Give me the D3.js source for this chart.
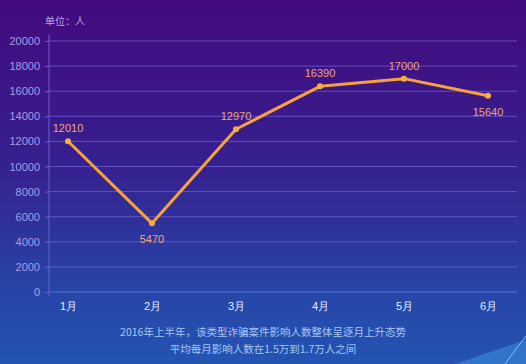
<!DOCTYPE html>
<html>
<head>
<meta charset="utf-8">
<script src="https://cdn.jsdelivr.net/npm/d3@7"></script>
<style>
  html, body { margin: 0; padding: 0; background: #2a2f9a; }
  svg { display: block; font-family: "Noto Sans CJK SC", "Noto Sans", sans-serif; }
</style>
</head>
<body>
<div id="chart"></div>
<script>
const months = ["1月", "2月", "3月", "4月", "5月", "6月"]
const people = [12010, 5470, 12970, 16390, 17000, 15640]
const yTicks = [0, 2000, 4000, 6000, 8000, 10000, 12000, 14000, 16000, 18000, 20000]
const unitLabel = "单位：人"
const notes = ["2016年上半年，该类型诈骗案件影响人数整体呈逐月上升态势", "平均每月影响人数在1.5万到1.7万人之间"]

const width = 526, height = 364

const svg = d3.select("#chart")
              .append("svg")
              .attr("width", width)
              .attr("height", height)

// background gradient purple -> blue
const grad = svg.append("defs").append("linearGradient")
                .attr("id", "bg")
                .attr("x1", 0).attr("y1", 0).attr("x2", 0).attr("y2", 1)
grad.append("stop").attr("offset", "0%").attr("stop-color", "#430a7e")
grad.append("stop").attr("offset", "45%").attr("stop-color", "#36208f")
grad.append("stop").attr("offset", "80%").attr("stop-color", "#2745a8")
grad.append("stop").attr("offset", "100%").attr("stop-color", "#2454b2")

svg.append("rect")
   .attr("width", width)
   .attr("height", height)
   .attr("fill", "url(#bg)")

const x = d3.scalePoint()
            .domain(months)
            .range([68, 488])

const y = d3.scaleLinear()
            .domain([0, 20000])
            .range([292, 41])

// grid lines
svg.append("g")
   .selectAll("line")
   .data(yTicks)
   .enter()
   .append("line")
   .attr("x1", 49)
   .attr("x2", 517)
   .attr("y1", d => y(d))
   .attr("y2", d => y(d))
   .attr("stroke", d => d === 0 ? "#5d7ee0" : "#6a5fd0")
   .attr("stroke-opacity", 0.8)
   .attr("stroke-width", 1)

// y axis
const yAxis = d3.axisLeft(y).tickValues(yTicks).tickSize(4).tickFormat(d3.format("d"))
const gy = svg.append("g")
              .attr("transform", "translate(49,0)")
              .call(yAxis)
gy.select(".domain").remove()
gy.selectAll(".tick line").attr("stroke", "#6a5fd0")
gy.selectAll("text")
  .attr("fill", "#a99de6")
  .attr("font-size", 11)
  .attr("font-family", "Liberation Sans, sans-serif")
  .attr("dx", -2)

svg.append("line")
   .attr("x1", 49).attr("x2", 49)
   .attr("y1", 34).attr("y2", 296)
   .attr("stroke", "#6a5fd0")

// x axis
const xAxis = d3.axisBottom(x).tickSize(0)
const gx = svg.append("g")
              .attr("transform", "translate(0,292)")
              .call(xAxis)
gx.select(".domain").remove()
gx.selectAll("text")
  .attr("fill", "#e8ecff")
  .attr("font-size", 11)
  .attr("dy", 15)

svg.append("text")
   .attr("x", 45)
   .attr("y", 25)
   .attr("fill", "#b4a8ea")
   .attr("font-size", 10)
   .text(unitLabel)

// line
const line = d3.line()
               .x((d, i) => x(months[i]))
               .y(d => y(d))

svg.append("path")
   .datum(people)
   .attr("d", line)
   .attr("fill", "none")
   .attr("stroke", "#f7a23c")
   .attr("stroke-width", 3)
   .attr("stroke-linejoin", "round")

svg.selectAll("circle.pt")
   .data(people)
   .enter()
   .append("circle")
   .attr("class", "pt")
   .attr("cx", (d, i) => x(months[i]))
   .attr("cy", d => y(d))
   .attr("r", 3)
   .attr("fill", "#f5b040")

// value labels, above except for the dips
const below = [false, true, false, false, false, true]
svg.selectAll("text.val")
   .data(people)
   .enter()
   .append("text")
   .attr("class", "val")
   .attr("x", (d, i) => x(months[i]))
   .attr("y", (d, i) => below[i] ? y(d) + 20 : y(d) - 9)
   .attr("text-anchor", "middle")
   .attr("fill", "#eba87a")
   .attr("font-size", 11)
   .attr("font-family", "Liberation Sans, sans-serif")
   .text(d => d)

// notes under the chart
svg.selectAll("text.note")
   .data(notes)
   .enter()
   .append("text")
   .attr("class", "note")
   .attr("x", 263)
   .attr("y", (d, i) => 336 + i * 17)
   .attr("text-anchor", "middle")
   .attr("fill", "#a8c6f2")
   .attr("font-size", 10.5)
   .text(d => d)

// little light swoosh in the corner
svg.append("path")
   .attr("d", "M455,364 Q490,352 526,340 L526,364 Z")
   .attr("fill", "#3d8fe0")
   .attr("opacity", 0.55)
svg.append("path")
   .attr("d", "M505,364 Q515,350 526,336")
   .attr("fill", "none")
   .attr("stroke", "#7fc0f5")
   .attr("stroke-width", 1)
</script>
</body>
</html>
